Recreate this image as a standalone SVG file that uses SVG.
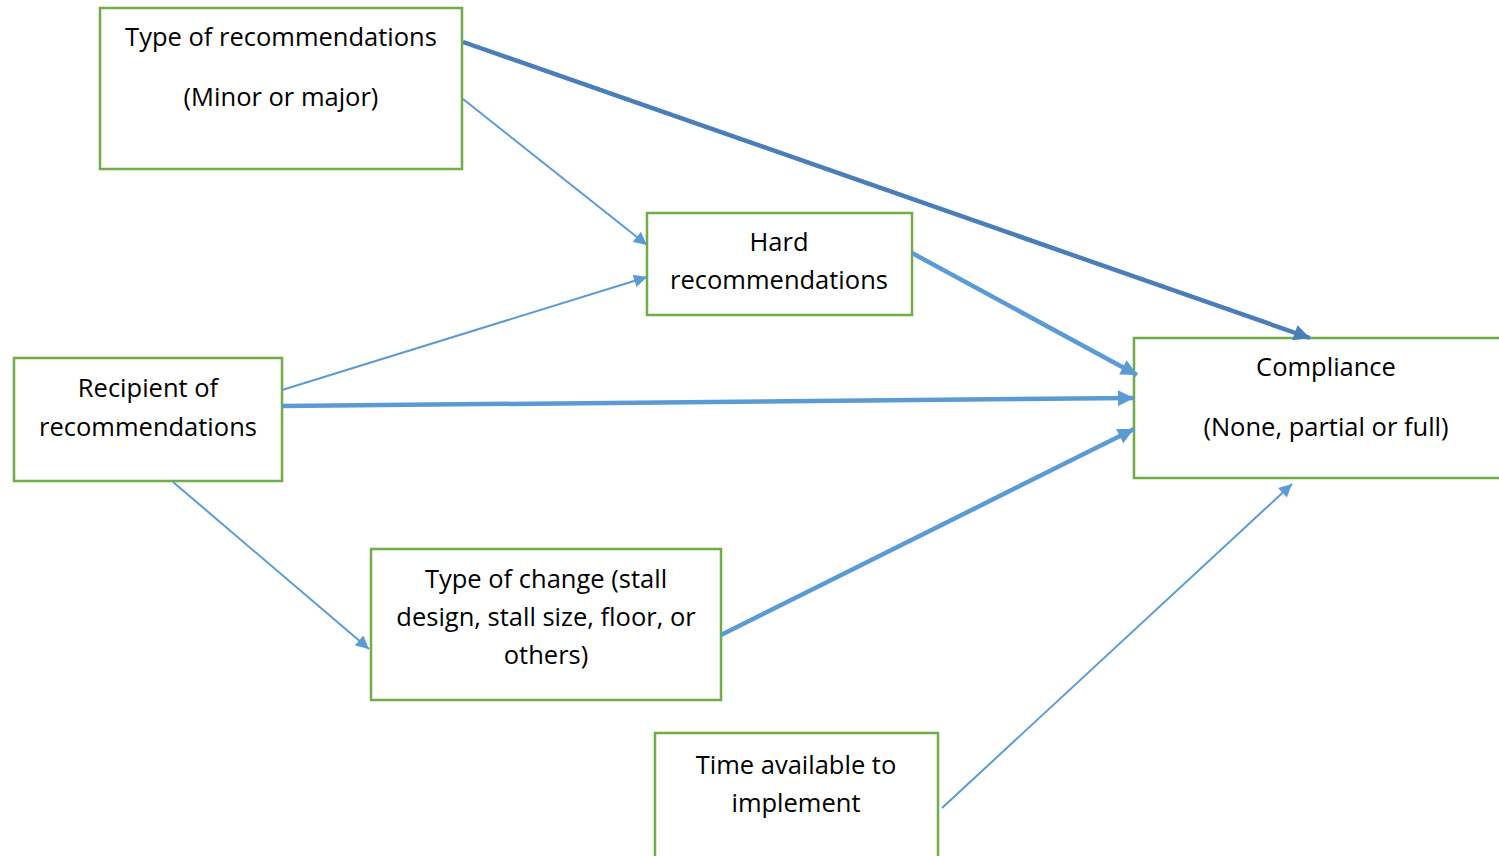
<svg xmlns="http://www.w3.org/2000/svg" width="1499" height="856" viewBox="0 0 1499 856">
<style>
.box{fill:#fff;stroke:#70AD47;stroke-width:2.5}
.t{font-family:"Open Sans","Liberation Sans",sans-serif;font-size:25.5px;fill:#000;text-anchor:middle}
.thin{stroke:#5B9BD5;stroke-width:2;fill:none}
.thick{stroke:#5B9BD5;stroke-width:4.5;fill:none}
.dark{stroke:#4A7EBB;stroke-width:4.5;fill:none}
</style>
<defs>
<marker id="ahb" viewBox="0 0 10 10" refX="10" refY="5" markerWidth="16" markerHeight="13" markerUnits="userSpaceOnUse" orient="auto"><path d="M0,0 L10,5 L0,10 z" fill="#5B9BD5"/></marker>
<marker id="ahk" viewBox="0 0 10 10" refX="10" refY="5" markerWidth="18" markerHeight="16" markerUnits="userSpaceOnUse" orient="auto"><path d="M0,0 L10,5 L0,10 z" fill="#5B9BD5"/></marker>
<marker id="ahd" viewBox="0 0 10 10" refX="10" refY="5" markerWidth="18" markerHeight="16" markerUnits="userSpaceOnUse" orient="auto"><path d="M0,0 L10,5 L0,10 z" fill="#4A7EBB"/></marker>
</defs>
<rect width="1499" height="856" fill="#fff"/>
<g id="n1"><rect class="box" x="100" y="8" width="362" height="161"/><text class="t" x="281" y="46">Type of recommendations</text><text class="t" x="281" y="106">(Minor or major)</text></g>
<g id="n2"><rect class="box" x="647" y="213" width="265" height="102"/><text class="t" x="779" y="251">Hard</text><text class="t" x="779" y="289">recommendations</text></g>
<g id="n3"><rect class="box" x="14" y="358" width="268" height="123"/><text class="t" x="148" y="397">Recipient of</text><text class="t" x="148" y="436">recommendations</text></g>
<g id="n4"><rect class="box" x="1134" y="338" width="380" height="140"/><text class="t" x="1326" y="376">Compliance</text><text class="t" x="1326" y="436">(None, partial or full)</text></g>
<g id="n5"><rect class="box" x="371" y="549" width="350" height="151"/><text class="t" x="546" y="588">Type of change (stall</text><text class="t" x="546" y="626">design, stall size, floor, or</text><text class="t" x="546" y="664">others)</text></g>
<g id="n6"><rect class="box" x="655" y="733" width="283" height="140"/><text class="t" x="796" y="774">Time available to</text><text class="t" x="796" y="812">implement</text></g>
<g id="connectors">
<line class="dark" x1="463" y1="42" x2="1310" y2="338" marker-end="url(#ahd)"/>
<line class="thin" x1="463" y1="99" x2="647" y2="245" marker-end="url(#ahb)"/>
<line class="thin" x1="282" y1="390" x2="647" y2="277" marker-end="url(#ahb)"/>
<line class="thick" x1="282" y1="406" x2="1134" y2="398" marker-end="url(#ahk)"/>
<line class="thick" x1="912" y1="253" x2="1137" y2="375" marker-end="url(#ahk)"/>
<line class="thin" x1="173" y1="482" x2="369" y2="649" marker-end="url(#ahb)"/>
<line class="thick" x1="721" y1="635" x2="1134" y2="429" marker-end="url(#ahk)"/>
<line class="thin" x1="942" y1="808" x2="1292" y2="484" marker-end="url(#ahb)"/>
</g>
</svg>
